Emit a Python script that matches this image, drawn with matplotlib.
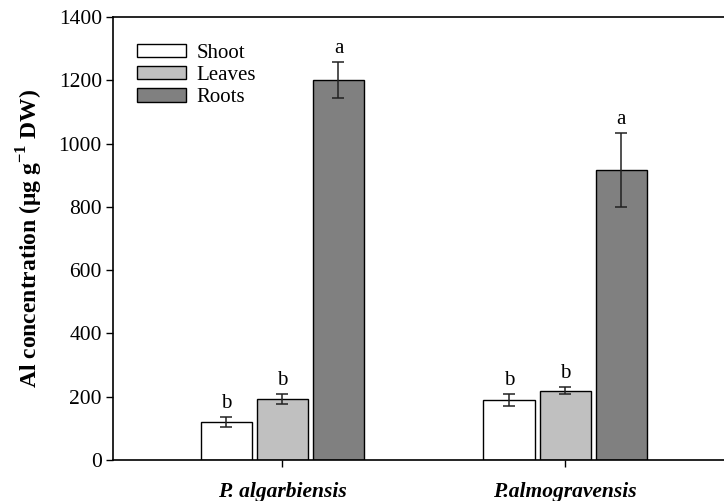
import numpy as np
import matplotlib
matplotlib.use("Agg")
import matplotlib.pyplot as plt
from matplotlib.patches import Patch

plt.rcParams["font.family"] = ["Liberation Serif", "DejaVu Serif"]
plt.rcParams["mathtext.fontset"] = "custom"
plt.rcParams["mathtext.rm"] = "Liberation Serif"
plt.rcParams["mathtext.bf"] = "Liberation Serif:bold"

species = ["P. algarbiensis", "P.almogravensis"]
organs = ["Shoot", "Leaves", "Roots"]
colors = ["white", "#c0c0c0", "#808080"]

# Al concentration (ug/g DW) per organ, one value per species
shoot = [120, 189]
leaves = [193, 219]
roots = [1200, 917]
shoot_err = [15, 20]
leaves_err = [15, 10]
roots_err = [57, 117]
letters = [["b", "b"], ["b", "b"], ["a", "a"]]

means = [shoot, leaves, roots]
errs = [shoot_err, leaves_err, roots_err]

fig = plt.figure(figsize=(7.24, 5.01), dpi=100)
ax = fig.add_axes([0.156, 0.082, 0.846, 0.884])

x = np.arange(len(species))
step = 0.1986
width = 0.181

for i, (m, e, c) in enumerate(zip(means, errs, colors)):
    pos = x + (i - 1) * step
    ax.bar(pos, m, width, color=c, edgecolor="black", linewidth=1.0, zorder=2)
    ax.errorbar(pos, m, yerr=e, fmt="none", ecolor="#222222", elinewidth=1.1,
                capsize=4.5, capthick=1.1, zorder=3)
    for p, v, er, lt in zip(pos, m, e, letters[i]):
        ax.annotate(lt, (p, v + er), xytext=(0, 6.5), textcoords="offset points",
                    ha="center", va="baseline", fontsize=15)

ax.set_xlim(-0.599, 1.567)
ax.set_ylim(0, 1400)
ax.set_yticks(np.arange(0, 1401, 200))
ax.set_xticks(x)
ax.set_xticklabels(species, fontsize=15.5, fontweight="bold", fontstyle="italic")
ax.tick_params(axis="y", direction="out", length=5, width=1, labelsize=15.5, pad=3)
ax.tick_params(axis="x", direction="out", length=5, width=1, pad=11)

ax.spines["right"].set_visible(False)
for s in ["left", "top", "bottom"]:
    ax.spines[s].set_linewidth(1.2)

ax.set_ylabel(r"Al concentration ($\mathbf{\mu}$g g$^{\mathbf{-1}}$ DW)",
              fontsize=17, fontweight="bold", labelpad=10)

handles = [Patch(facecolor=c, edgecolor="black", linewidth=1.0) for c in colors]
ax.legend(handles, organs, loc="upper left", bbox_to_anchor=(0.039, 0.939),
          frameon=False, fontsize=15, handlelength=2.35, handleheight=0.6,
          handletextpad=0.5, labelspacing=0.15, borderpad=0, borderaxespad=0)

fig.savefig("out.png", dpi=100)
